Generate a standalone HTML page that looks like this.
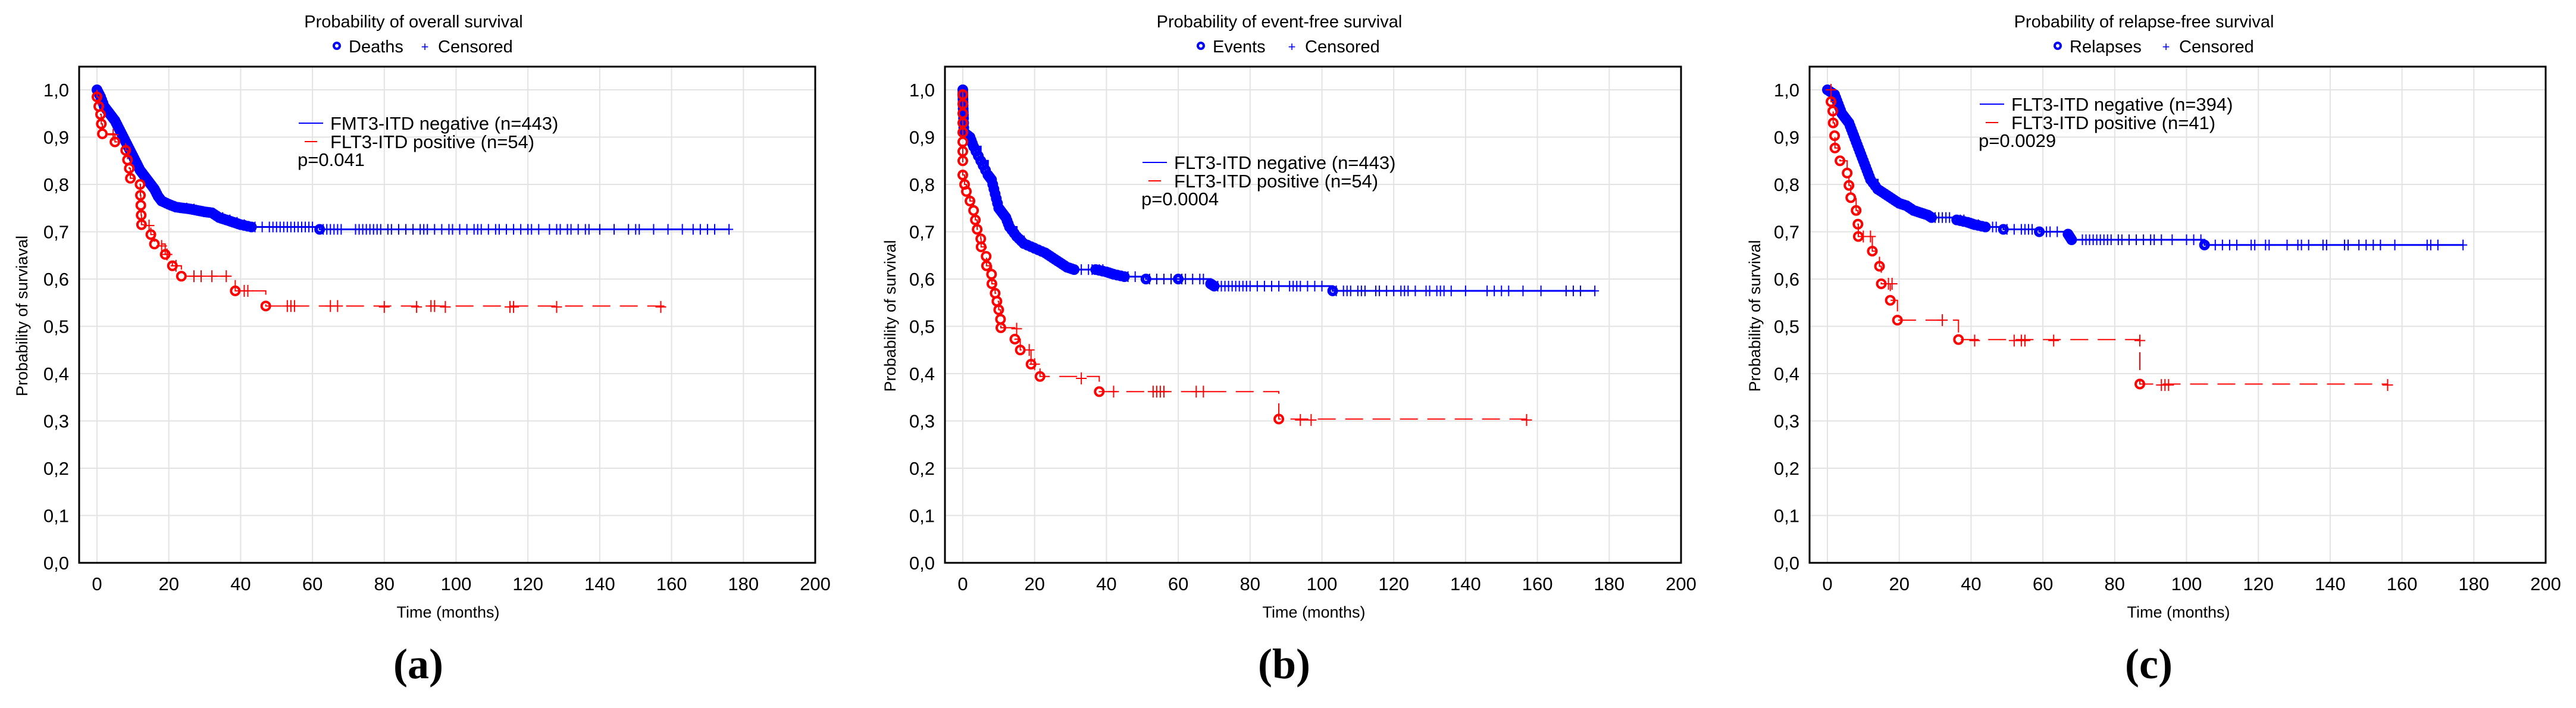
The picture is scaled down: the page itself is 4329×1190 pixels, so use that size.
<!DOCTYPE html>
<html><head><meta charset="utf-8"><style>
html,body{margin:0;padding:0;background:#fff;}
svg{display:block;}
.tk{font-family:"Liberation Sans Narrow","Liberation Sans",sans-serif;font-size:31px;fill:#000;}
.lg{font-family:"Liberation Sans Narrow","Liberation Sans",sans-serif;font-size:31px;fill:#000;}
.ttl{font-family:"Liberation Sans Narrow","Liberation Sans",sans-serif;font-size:29px;fill:#000;}
.ax{font-family:"Liberation Sans",sans-serif;font-size:27px;fill:#000;}
.cap{font-family:"Liberation Serif",serif;font-size:72px;font-weight:bold;fill:#000;}
</style></head><body>
<svg id="chart" width="4329" height="1190" xmlns="http://www.w3.org/2000/svg"></svg>
<script>
// ---------- DATA ----------
const xTicks=[0,20,40,60,80,100,120,140,160,180,200];
const yTicks=[0,0.1,0.2,0.3,0.4,0.5,0.6,0.7,0.8,0.9,1.0];
const yTickLabels=["0,0","0,1","0,2","0,3","0,4","0,5","0,6","0,7","0,8","0,9","1,0"];
const panelTitles=["Probability of overall survival","Probability of event-free survival","Probability of relapse-free survival"];
const eventNames=["Deaths","Events","Relapses"];
const yTitles=["Probability of surviaval","Probability of survival","Probability of survival"];
const captions=["(a)","(b)","(c)"];
const negLabels=["FMT3-ITD negative (n=443)","FLT3-ITD negative (n=443)","FLT3-ITD negative (n=394)"];
const posLabels=["FLT3-ITD positive (n=54)","FLT3-ITD positive (n=54)","FLT3-ITD positive (n=41)"];
const pValues=["p=0.041","p=0.0004","p=0.0029"];

// Panel a
const aNegT=[0,1,2,3,4,5,6,7,8,9,10,11,12,13,14,15,16,17,18,20,22,24,26,28,30,32,34,36,38,40,43,62];
const aNegS=[1.0,0.985,0.965,0.955,0.945,0.935,0.92,0.905,0.89,0.875,0.86,0.845,0.83,0.82,0.81,0.8,0.79,0.775,0.765,0.758,0.752,0.75,0.748,0.745,0.742,0.74,0.73,0.725,0.72,0.715,0.71,0.705];
const aNegEnd=[176,0.703];
const aNegCens=[25,27,35,37,39,41,44,46,48,49,50,51,52,53,54,55,56,57,58,59,60,63,64,65,66,67,68,72,73,74,75,76,77,78,79,81,82,84,86,88,90,91,92,94,96,98,99,101,103,105,106,107,109,111,112,114,116,118,120,121,123,126,128,129,131,132,134,136,137,140,144,148,150,151,155,159,163,166,168,170,172,176];
const aPosT=[0,0.5,1,1.2,1.5,5,8,8.5,9,9.3,12,12.1,12.2,12.3,12.4,15,16,19,21,23.5,38.5,47];
const aPosS=[0.985,0.965,0.948,0.928,0.907,0.89,0.872,0.852,0.834,0.813,0.8,0.777,0.756,0.735,0.715,0.694,0.674,0.652,0.628,0.606,0.575,0.543];
const aPosEnd=[158,0.541];
const aPosCensT=[4.5,14.5,18,19.5,22,27,29,32,36,41,42,53,54,55,65,67,80,89,93,94,97,115,116,128,157];
const aPosCensS=[0.905,0.713,0.67,0.652,0.628,0.606,0.606,0.606,0.606,0.575,0.575,0.543,0.543,0.543,0.543,0.543,0.541,0.541,0.543,0.543,0.541,0.541,0.541,0.541,0.541];

// Panel b
const bNegT=[0,0.05,0.1,0.2,0.3,2,3,5,7,8,9,10,11,12,13,15,17,20,23,25,27,29,31,37,40,42,45,51,60,69,70,103];
const bNegS=[1.0,0.98,0.96,0.94,0.91,0.9,0.88,0.85,0.82,0.81,0.78,0.75,0.74,0.73,0.71,0.69,0.675,0.665,0.655,0.645,0.635,0.625,0.62,0.62,0.615,0.61,0.605,0.6,0.6,0.59,0.585,0.575];
const bNegEnd=[176,0.573];
const bNegCens=[33,35,36,38,39,46,48,52,54,56,58,61,62,64,66,67,71,72,73,74,75,76,77,78,79,80,82,84,86,88,91,92,93,94,96,98,100,104,106,107,108,110,111,112,115,116,118,120,122,123,124,126,129,130,132,133,134,136,140,146,148,150,152,156,161,168,170,172,176];
const bPosT=[0,0,0,0,0,0,0,0,0,0.5,1,2,3,3.5,4,5,5.1,6.5,6.6,8,8.1,9,9.5,10,10.5,10.6,14.5,16,19,21.5,38,88];
const bPosS=[0.99,0.97,0.95,0.93,0.91,0.89,0.87,0.85,0.82,0.8,0.785,0.765,0.745,0.725,0.705,0.685,0.668,0.648,0.628,0.61,0.59,0.57,0.553,0.535,0.515,0.497,0.473,0.45,0.42,0.394,0.362,0.304];
const bPosEnd=[157,0.302];
const bPosCensT=[15,18.5,20,33,42,53,54,55,56,65,67,94,97,157];
const bPosCensS=[0.495,0.45,0.42,0.39,0.362,0.362,0.362,0.362,0.362,0.362,0.362,0.302,0.302,0.302];

// Panel c
const cNegT=[0,2,3,4,5,6,7,8,9,10,11,12,14,16,18,20,22,24,26,28,29,36,39,41,44,49,59,67,68,105];
const cNegS=[1.0,0.99,0.97,0.95,0.94,0.93,0.91,0.89,0.87,0.85,0.83,0.81,0.79,0.78,0.77,0.76,0.755,0.745,0.74,0.735,0.73,0.725,0.72,0.715,0.71,0.705,0.7,0.695,0.683,0.672];
const cNegEnd=[177,0.67];
const cNegCens=[30,31,32,33,34,37,38,42,46,47,50,52,54,55,56,57,61,62,64,71,72,73,74,75,76,77,78,79,81,82,84,86,88,90,91,93,96,100,102,104,108,110,112,114,118,119,122,123,128,131,132,134,138,139,144,145,148,150,152,154,158,167,168,170,177];
const cPosT=[1,1.5,1.6,2,2.1,3.5,5.5,6,6.5,8,8.5,8.6,12.5,14.5,15,17.5,19.5,36.5,87];
const cPosS=[0.975,0.955,0.93,0.903,0.877,0.85,0.824,0.798,0.772,0.745,0.716,0.69,0.659,0.627,0.59,0.555,0.513,0.472,0.378];
const cPosEnd=[156,0.375];
const cPosCensT=[1,10,12,17,18,32,41,52,54,55,63,87,93,94,95,156];
const cPosCensS=[1.0,0.69,0.69,0.59,0.59,0.513,0.47,0.47,0.47,0.47,0.47,0.47,0.376,0.376,0.376,0.376];

const panels=[
 {negT:aNegT,negS:aNegS,negEnd:aNegEnd,negCens:aNegCens,posT:aPosT,posS:aPosS,posEnd:aPosEnd,posCT:aPosCensT,posCS:aPosCensS},
 {negT:bNegT,negS:bNegS,negEnd:bNegEnd,negCens:bNegCens,posT:bPosT,posS:bPosS,posEnd:bPosEnd,posCT:bPosCensT,posCS:bPosCensS},
 {negT:cNegT,negS:cNegS,negEnd:cNegEnd,negCens:cNegCens,posT:cPosT,posS:cPosS,posEnd:cPosEnd,posCT:cPosCensT,posCS:cPosCensS}
];
// ---------- LAYOUT ----------
const offsets=[0,1455,2908];
const legendPos=[{lx:502,ly:207},{lx:465,ly:273},{lx:419,ly:175}];
const evMarkX=[566,563,550], ceMarkX=[714,716,732];
const NS="http://www.w3.org/2000/svg";
const svg=document.getElementById('chart');
function mk(tag,attrs,parent){const e=document.createElementNS(NS,tag);for(const k in attrs)e.setAttribute(k,attrs[k]);(parent||svg).appendChild(e);return e;}

panels.forEach((p,i)=>{
 const ox=offsets[i];
 const L=133+ox,R=1370+ox,T=112,B=946;
 const X=t=>L+30+t*(R-L-30)/200;
 const Y=v=>B-v*(B-151);
 const g=mk('g',{});
 
 
 xTicks.forEach(t=>{const l=mk('line',{x1:X(t),x2:X(t),y1:T,y2:B,stroke:'#e3e3e3','stroke-width':2},g);
  
  const tx=mk('text',{x:X(t),y:992,'text-anchor':'middle',class:'tk'},g);tx.textContent=t;
  });
 yTicks.forEach((v,k)=>{const l=mk('line',{x1:L,x2:R,y1:Y(v),y2:Y(v),stroke:'#e3e3e3','stroke-width':2},g);
  
  const tx=mk('text',{x:L-17,y:Y(v)+11,'text-anchor':'end',class:'tk'},g);tx.textContent=yTickLabels[k];
  });
 const fr=mk('rect',{x:L,y:T,width:R-L,height:B-T,fill:'none',stroke:'#000','stroke-width':3},g);
 
 const tt=mk('text',{x:ox+695,y:46,'text-anchor':'middle',class:'ttl'},g);tt.textContent=panelTitles[i];
 
 const em=mk('circle',{cx:ox+evMarkX[i],cy:77,r:5,fill:'none',stroke:'#0000ff','stroke-width':4},g);
 
 const et=mk('text',{x:ox+evMarkX[i]+20,y:88,class:'ttl'},g);et.textContent=eventNames[i];
 
 const cm=mk('text',{x:ox+ceMarkX[i],y:86,'text-anchor':'middle',style:'font:22px "Liberation Sans";fill:#0000ff'},g);cm.textContent='+';
 
 const ct=mk('text',{x:ox+ceMarkX[i]+22,y:88,class:'ttl'},g);ct.textContent='Censored';
 
 const xt=mk('text',{x:ox+753,y:1038,'text-anchor':'middle',class:'ax'},g);xt.textContent='Time (months)';
 
 const yt=mk('text',{x:0,y:0,'text-anchor':'middle',class:'ax',transform:`translate(${ox+(i==0?46:50)},531) rotate(-90)`},g);yt.textContent=yTitles[i];
 
 const cp=mk('text',{x:ox+703,y:1140,'text-anchor':'middle',class:'cap'},g);cp.textContent=captions[i];
 
 const lp=legendPos[i];
 const l1=mk('line',{x1:ox+lp.lx,x2:ox+lp.lx+41,y1:lp.ly,y2:lp.ly,stroke:'#0000ff','stroke-width':2},g);
 
 const t1=mk('text',{x:ox+lp.lx+53,y:lp.ly+11,class:'lg'},g);t1.textContent=negLabels[i];
 
 const l2=mk('line',{x1:ox+lp.lx+10,x2:ox+lp.lx+31,y1:lp.ly+31,y2:lp.ly+31,stroke:'#ff0000','stroke-width':2},g);
 
 const t2=mk('text',{x:ox+lp.lx+53,y:lp.ly+42,class:'lg'},g);t2.textContent=posLabels[i];
 
 const t3=mk('text',{x:ox+lp.lx-2,y:lp.ly+72,class:'lg'},g);t3.textContent=pValues[i];
 
 function stepPath(ts,ss,end){let d=`M${X(0)},${Y(1)}`;
  for(let k=0;k<ts.length;k++){d+=` H${X(ts[k])} V${Y(ss[k])}`;}
  d+=` H${X(end[0])}`;return d;}
 const np=mk('path',{d:stepPath(p.negT,p.negS,p.negEnd),fill:'none',stroke:'#0000ff','stroke-width':3},g);
 
 p.negCens.forEach(t=>{let s=p.negEnd[1];for(let k=0;k<p.negT.length;k++){if(p.negT[k]<=t)s=p.negS[k];}
  const c=mk('path',{d:`M${X(t)},${Y(s)-9} V${Y(s)+9} M${X(t)-7},${Y(s)} H${X(t)+7}`,stroke:'#0000ff','stroke-width':2},g);
  });
 p.negT.forEach((t,k)=>{
  const c=mk('circle',{cx:X(t),cy:Y(p.negS[k]),r:6,fill:'none',stroke:'#0000ff','stroke-width':6},g);
  
  if(k<p.negT.length-1&&p.negT[k+1]-t<=3){
   for(const f of [0.33,0.66]){const c2=mk('circle',{cx:X(t)+(X(p.negT[k+1])-X(t))*f,cy:Y(p.negS[k])+(Y(p.negS[k+1])-Y(p.negS[k]))*f,r:6,fill:'none',stroke:'#0000ff','stroke-width':6},g);
   }}});
 const pp=mk('path',{d:stepPath(p.posT,p.posS,p.posEnd),fill:'none',stroke:'#ff0000','stroke-width':2,'stroke-dasharray':'30,16'},g);
 
 p.posCT.forEach((t,k)=>{const s=p.posCS[k];
  const c=mk('path',{d:`M${X(t)},${Y(s)-10} V${Y(s)+10} M${X(t)-9},${Y(s)} H${X(t)+9}`,stroke:'#ff0000','stroke-width':2},g);
  });
 p.posT.forEach((t,k)=>{
  const c=mk('circle',{cx:X(t),cy:Y(p.posS[k]),r:7,fill:'none',stroke:'#ff0000','stroke-width':4},g);
  });
});
</script>
</body></html>
